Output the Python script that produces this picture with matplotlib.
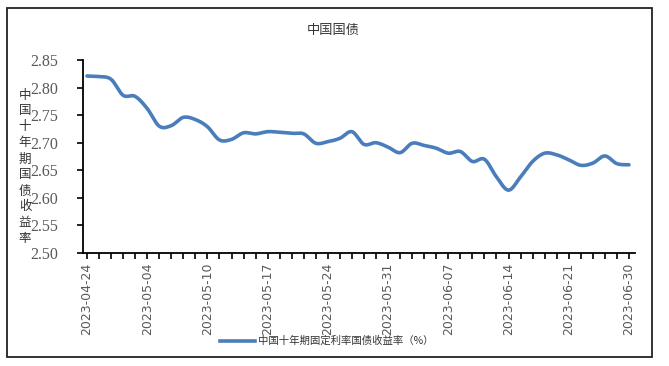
import matplotlib
matplotlib.use("Agg")
import matplotlib.pyplot as plt
import numpy as np
from matplotlib.patches import Rectangle
from matplotlib.lines import Line2D

plt.rcParams['font.family'] = ['Noto Sans CJK SC', 'DejaVu Sans']

dates = ["2023-04-24", "2023-04-25", "2023-04-26", "2023-04-27", "2023-04-28",
         "2023-05-04", "2023-05-05", "2023-05-06", "2023-05-08", "2023-05-09",
         "2023-05-10", "2023-05-11", "2023-05-12", "2023-05-15", "2023-05-16",
         "2023-05-17", "2023-05-18", "2023-05-19", "2023-05-22", "2023-05-23",
         "2023-05-24", "2023-05-25", "2023-05-26", "2023-05-29", "2023-05-30",
         "2023-05-31", "2023-06-01", "2023-06-02", "2023-06-05", "2023-06-06",
         "2023-06-07", "2023-06-08", "2023-06-09", "2023-06-12", "2023-06-13",
         "2023-06-14", "2023-06-15", "2023-06-16", "2023-06-19", "2023-06-20",
         "2023-06-21", "2023-06-26", "2023-06-27", "2023-06-28", "2023-06-29",
         "2023-06-30"]
yields = [2.821, 2.820, 2.815, 2.786, 2.784,
          2.762, 2.730, 2.731, 2.746, 2.742,
          2.729, 2.705, 2.706, 2.718, 2.716,
          2.720, 2.719, 2.717, 2.716, 2.699,
          2.702, 2.708, 2.720, 2.697, 2.700,
          2.692, 2.682, 2.699, 2.695, 2.690,
          2.681, 2.684, 2.666, 2.670, 2.638,
          2.614, 2.638, 2.666, 2.681, 2.678,
          2.669, 2.659, 2.663, 2.676, 2.662,
          2.660]
title = "中国国债"
ylabel = "中国十年期国债收益率"
series_name = "中国十年期固定利率国债收益率（%）"
yticks = [2.50, 2.55, 2.60, 2.65, 2.70, 2.75, 2.80, 2.85]

W, H = 669, 366
fig = plt.figure(figsize=(W / 100, H / 100), dpi=100)
fig.patch.set_facecolor('white')

def fx(px):
    return px / W

def fy(py):
    return 1 - py / H

ax = fig.add_axes([fx(83), fy(253), fx(635) - fx(83), fy(60) - fy(253)])

# Catmull-Rom smoothing for drawing (like Excel smoothed line)
x = np.arange(len(yields), dtype=float)
y = np.array(yields)
P = np.column_stack([x, y])
Pp = np.vstack([P[0], P, P[-1]])
xs, ys = [], []
for i in range(1, len(Pp) - 2):
    p0, p1, p2, p3 = Pp[i - 1], Pp[i], Pp[i + 1], Pp[i + 2]
    t = np.linspace(0, 1, 20, endpoint=False)[:, None]
    c = 0.5 * ((2 * p1) + (-p0 + p2) * t + (2 * p0 - 5 * p1 + 4 * p2 - p3) * t ** 2
               + (-p0 + 3 * p1 - 3 * p2 + p3) * t ** 3)
    xs.extend(c[:, 0]); ys.extend(c[:, 1])
xs.append(P[-1, 0]); ys.append(P[-1, 1])

line_color = '#4A7EBB'
ax.plot(xs, ys, color=line_color, lw=2.6, solid_capstyle='round', solid_joinstyle='round')

ax.set_xlim(-0.33, 45.5)
ax.set_ylim(2.50, 2.85)
for s in ['top', 'right']:
    ax.spines[s].set_visible(False)
for s in ['left', 'bottom']:
    ax.spines[s].set_linewidth(1.3)
    ax.spines[s].set_color('black')

ax.set_yticks(yticks)
ax.set_yticklabels([f"{v:.2f}" for v in yticks], fontsize=11.5, color='#595959',
                   family=['Liberation Serif'])
ax.tick_params(axis='y', direction='out', length=4, width=1.2, pad=14)

ax.set_xticks(x, minor=True)
major = list(range(0, 46, 5))
ax.set_xticks(major)
ax.set_xticklabels([dates[i] for i in major], rotation=90, fontsize=9, color='#595959',
                   family=['DejaVu Sans'])
ax.tick_params(axis='x', which='both', direction='out', length=4, width=1.2, pad=3)

fig.text(fx(333), fy(30), title, ha='center', va='center', fontsize=9.5, color='#333333')
fig.text(fx(25), fy(167), "\n".join(ylabel), ha='center', va='center', fontsize=9,
         color='#333333', linespacing=1.3)

# legend
fig.add_artist(Line2D([fx(220), fx(255)], [fy(341), fy(341)], color=line_color, lw=2.6))
fig.text(fx(258), fy(341), series_name, ha='left', va='center', fontsize=7.5, color='#333333')

fig.add_artist(Rectangle((fx(7), fy(357)), fx(652) - fx(7), fy(8) - fy(357),
                         fill=False, edgecolor='#222222', lw=1.3, transform=fig.transFigure))

fig.savefig("out.png", dpi=100)
